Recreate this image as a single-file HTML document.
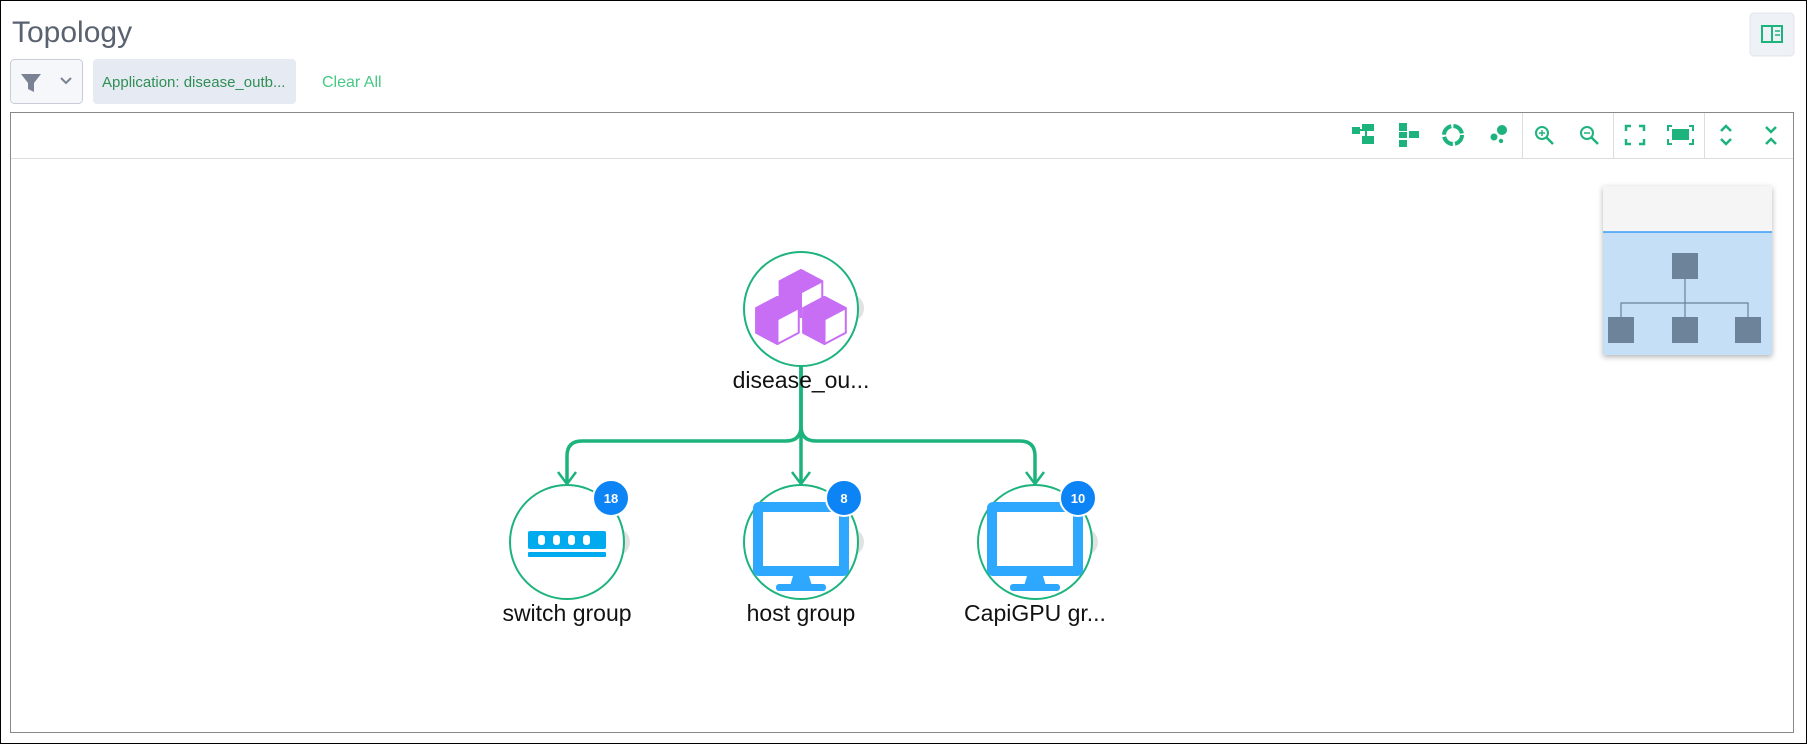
<!DOCTYPE html>
<html><head><meta charset="utf-8"><style>
html,body{margin:0;padding:0;background:#fff;}
body{width:1807px;height:744px;overflow:hidden;font-family:"Liberation Sans",sans-serif;}
</style></head><body>
<svg width="1807" height="744" viewBox="0 0 1807 744" xmlns="http://www.w3.org/2000/svg" font-family="Liberation Sans, sans-serif">
<rect x="0.5" y="0.5" width="1806" height="743" fill="#fff" stroke="#000"/>
<text x="12" y="42" font-size="30" fill="#5a6270">Topology</text>
<rect x="1750" y="13" width="44" height="43" rx="4" fill="#eef1f6" stroke="#e0e4ea"/>
<rect x="1762" y="26" width="20" height="16" fill="none" stroke="#1db37c" stroke-width="2"/>
<line x1="1772" y1="26" x2="1772" y2="42" stroke="#1db37c" stroke-width="2"/>
<line x1="1775" y1="31" x2="1780" y2="31" stroke="#1db37c" stroke-width="1.5"/>
<line x1="1775" y1="35" x2="1780" y2="35" stroke="#1db37c" stroke-width="1.5"/>
<rect x="10.5" y="59.5" width="72" height="44" rx="4" fill="#f5f7fb" stroke="#c8ccd6"/>
<path d="M21 74 H41 L34 83 V92 L28 89 V83 Z" fill="#7a8294"/>
<path d="M61 78 L66 83 L71 78" fill="none" stroke="#7a8294" stroke-width="2"/>
<rect x="93" y="59" width="203" height="45" rx="4" fill="#e6eaf2"/>
<text x="102" y="87" font-size="15" fill="#2f8f55">Application: disease_outb...</text>
<text x="322" y="87" font-size="16" fill="#45c985">Clear All</text>
<rect x="10.5" y="112.5" width="1783" height="620" fill="#fff" stroke="#888"/>
<line x1="11" y1="158.5" x2="1793" y2="158.5" stroke="#ddd"/>
<g stroke="#ddd"><line x1="1522.5" y1="113" x2="1522.5" y2="158"/><line x1="1613.5" y1="113" x2="1613.5" y2="158"/><line x1="1704.5" y1="113" x2="1704.5" y2="158"/></g>
<g fill="#1db37c" stroke="#1db37c">
<rect x="1352" y="127" width="8" height="7" stroke="none"/><rect x="1362" y="124" width="12" height="7" stroke="none"/><rect x="1362" y="136" width="12" height="8" stroke="none"/><line x1="1360" y1="130" x2="1366" y2="130" stroke-width="2"/><line x1="1366" y1="130" x2="1366" y2="140" stroke-width="2"/>
<rect x="1399" y="123" width="8" height="8" stroke="none"/><rect x="1399" y="132" width="8" height="6" stroke="none"/><rect x="1399" y="140" width="8" height="7" stroke="none"/><rect x="1409" y="131" width="10" height="7" stroke="none"/>
<circle cx="1453" cy="135" r="9" fill="none" stroke-width="4" stroke-dasharray="12 2.2"/>
<circle cx="1502" cy="130" r="5" stroke="none"/><circle cx="1494" cy="137" r="3.5" stroke="none"/><circle cx="1501" cy="141" r="2.2" stroke="none"/>
<circle cx="1542" cy="133" r="6" fill="none" stroke-width="2"/><line x1="1546" y1="137" x2="1553" y2="144" stroke-width="2.5"/><line x1="1539" y1="133" x2="1545" y2="133" stroke-width="1.5"/><line x1="1542" y1="130" x2="1542" y2="136" stroke-width="1.5"/>
<circle cx="1587" cy="133" r="6" fill="none" stroke-width="2"/><line x1="1591" y1="137" x2="1598" y2="144" stroke-width="2.5"/><line x1="1584" y1="133" x2="1590" y2="133" stroke-width="1.5"/>
<g fill="none" stroke-width="2.5"><path d="M1626 131 v-5 h5 M1644 131 v-5 h-5 M1626 139 v5 h5 M1644 139 v5 h-5"/></g>
<rect x="1672" y="129" width="17" height="11" stroke="none"/>
<g fill="none" stroke-width="2"><path d="M1668 131 v-5 h4 M1693 131 v-5 h-4 M1668 139 v5 h4 M1693 139 v5 h-4"/></g>
<g fill="none" stroke-width="2.5"><path d="M1721 131 l5 -5 l5 5 M1721 139 l5 5 l5 -5 M1766 127 l5 5 l5 -5 M1766 144 l5 -5 l5 5"/></g>
</g>
<rect x="1603" y="186" width="169" height="169" fill="#f5f5f5" style="filter:drop-shadow(0 2px 3px rgba(0,0,0,.3))"/>
<rect x="1603" y="232" width="169" height="123" fill="#c5dff6"/>
<line x1="1603" y1="232" x2="1772" y2="232" stroke="#3a9cf5" stroke-width="1.5"/>
<g stroke="#6b8099" stroke-width="1.2" fill="none"><path d="M1685 279 V309 M1621 317 V303 H1748 V317 M1685 303 V317"/></g>
<g fill="#6d8399"><rect x="1672" y="253" width="26" height="26"/><rect x="1608" y="317" width="26" height="26"/><rect x="1672" y="317" width="26" height="26"/><rect x="1735" y="317" width="26" height="26"/></g>
<g fill="none" stroke="#1db37c" stroke-width="3.5">
<path d="M801 360 V426 Q801 441 786 441 H582 Q567 441 567 456 V482"/>
<path d="M801 360 V482"/>
<path d="M801 360 V426 Q801 441 816 441 H1020 Q1035 441 1035 456 V482"/>
</g>
<g fill="none" stroke="#1db37c" stroke-width="2.5">
<path d="M558 472 L567 484 L576 472"/><path d="M792 472 L801 484 L810 472"/><path d="M1026 472 L1035 484 L1044 472"/>
</g>
<g fill="#e2e2e2"><circle cx="850" cy="308" r="14"/><circle cx="616" cy="542" r="14"/><circle cx="850" cy="542" r="14"/><circle cx="1084" cy="542" r="14"/></g>
<g fill="#fff" stroke="#1db37c" stroke-width="2">
<circle cx="801" cy="309" r="57"/><circle cx="567" cy="542" r="57"/><circle cx="801" cy="542" r="57"/><circle cx="1035" cy="542" r="57"/>
</g>
<g transform="translate(801,307) scale(1.12) translate(-801,-299)" stroke="#c86ef5" stroke-width="1.8" stroke-linejoin="round">
<path d="M782 276 L801 266 L820 276 L820 298 L801 308 L782 298 Z" fill="#fff"/><path d="M782 276 L801 286 L820 276 L801 266 Z" fill="#c86ef5"/><path d="M782 276 L801 286 V308 L782 298 Z" fill="#c86ef5"/>
<path d="M761 300 L780 290 L799 300 L799 322 L780 332 L761 322 Z" fill="#fff"/><path d="M761 300 L780 310 L799 300 L780 290 Z" fill="#c86ef5"/><path d="M761 300 L780 310 V332 L761 322 Z" fill="#c86ef5"/>
<path d="M803 300 L822 290 L841 300 L841 322 L822 332 L803 322 Z" fill="#fff"/><path d="M803 300 L822 310 L841 300 L822 290 Z" fill="#c86ef5"/><path d="M803 300 L822 310 V332 L803 322 Z" fill="#c86ef5"/>
</g>
<rect x="528" y="531" width="78" height="18" rx="2" fill="#00aaee"/>
<rect x="528" y="552" width="78" height="5" rx="1" fill="#00aaee"/>
<g fill="#fff"><rect x="538" y="535" width="7" height="10" rx="3"/><rect x="553" y="535" width="7" height="10" rx="3"/><rect x="568" y="535" width="7" height="10" rx="3"/><rect x="583" y="535" width="7" height="10" rx="3"/></g>
<g>
<rect x="753" y="502" width="96" height="74" rx="6" fill="#2ea8ff"/>
<rect x="763" y="512" width="76" height="54" fill="#fff"/>
<path d="M793 576 h16 l3 10 h-22 z" fill="#2ea8ff"/>
<rect x="776" y="584" width="50" height="7" rx="3" fill="#2ea8ff"/>
</g>
<g transform="translate(234,0)">
<rect x="753" y="502" width="96" height="74" rx="6" fill="#2ea8ff"/>
<rect x="763" y="512" width="76" height="54" fill="#fff"/>
<path d="M793 576 h16 l3 10 h-22 z" fill="#2ea8ff"/>
<rect x="776" y="584" width="50" height="7" rx="3" fill="#2ea8ff"/>
</g>
<g fill="#0d84f5" stroke="#fff" stroke-width="2"><circle cx="611" cy="498" r="18"/><circle cx="844" cy="498" r="18"/><circle cx="1078" cy="498" r="18"/></g>
<g fill="#fff" font-size="13" font-weight="bold" text-anchor="middle"><text x="611" y="503">18</text><text x="844" y="503">8</text><text x="1078" y="503">10</text></g>
<g font-size="23" fill="#111" text-anchor="middle">
<text x="801" y="388">disease_ou...</text>
<text x="567" y="621">switch group</text>
<text x="801" y="621">host group</text>
<text x="1035" y="621">CapiGPU gr...</text>
</g>
</svg>
</body></html>
